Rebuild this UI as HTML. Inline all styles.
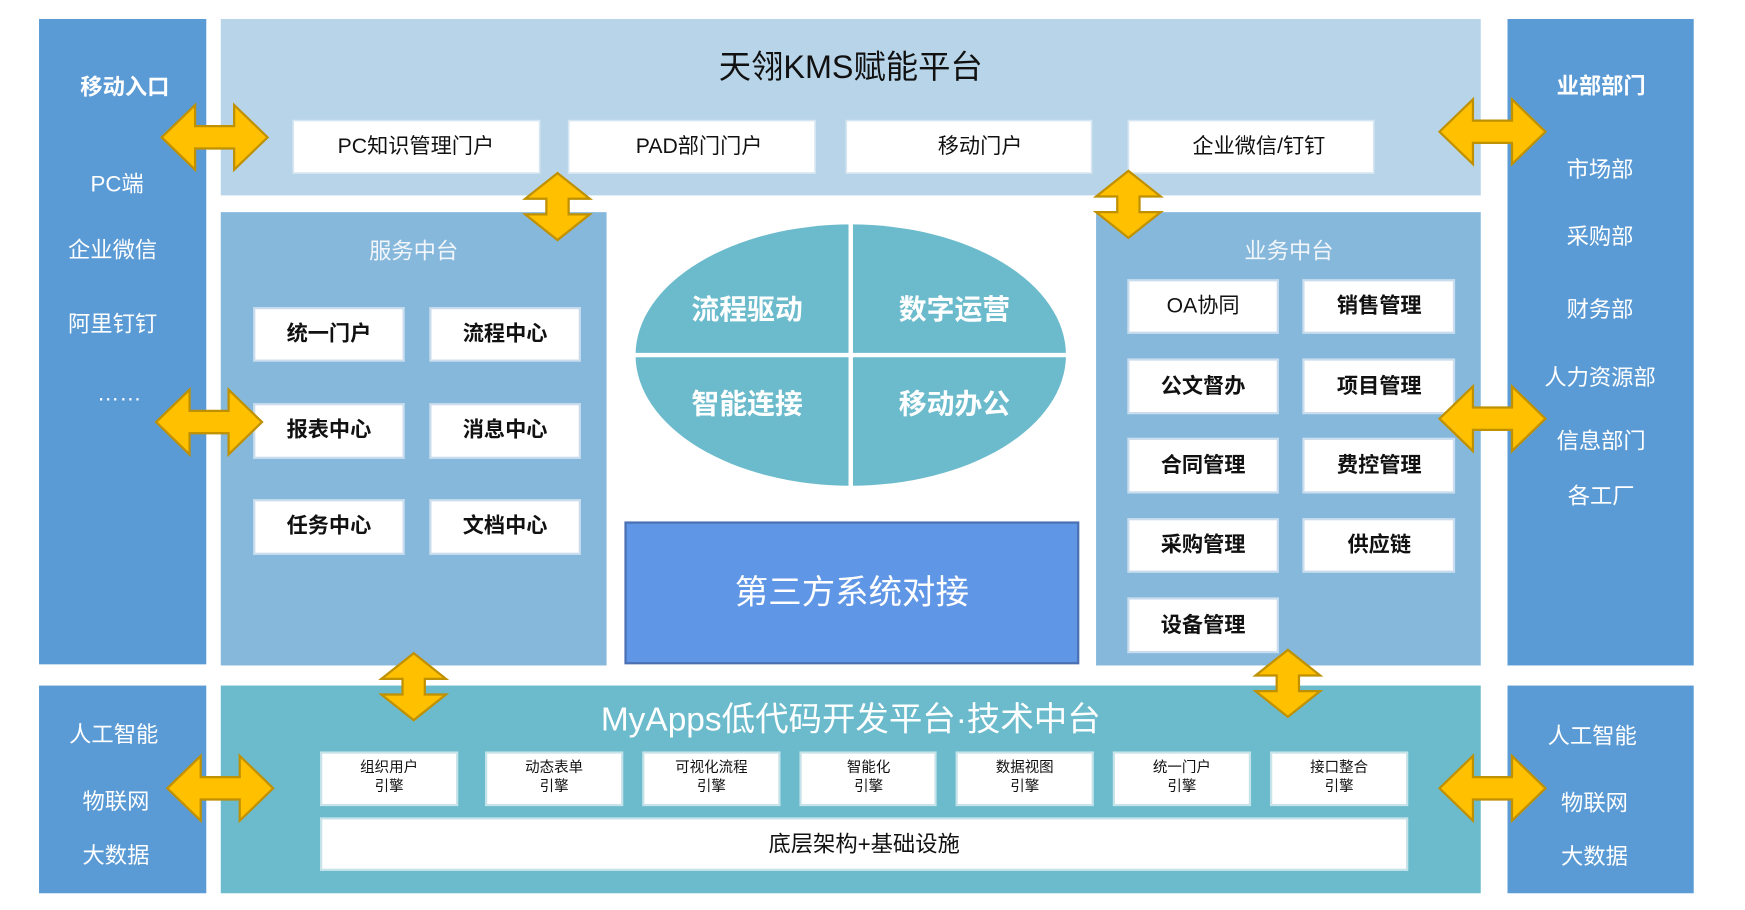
<!DOCTYPE html>
<html><head><meta charset="utf-8"><style>
html,body{margin:0;padding:0;background:#fff;}
svg{display:block;}
text{font-family:"Liberation Sans","Noto Sans CJK SC",sans-serif;dominant-baseline:central;text-anchor:middle;}
</style></head><body>
<svg width="1745" height="910" viewBox="0 0 1565 815" preserveAspectRatio="none" xmlns="http://www.w3.org/2000/svg">
<defs>
<polygon id="ha" points="0,0 30,-29 30,-10 65,-10 65,-29 95,0 65,29 65,10 30,10 30,29" fill="#ffc000" stroke="#bf9000" stroke-width="2"/>
<polygon id="va" points="0,0 -29,23 -10,23 -10,37 -29,37 0,60 29,37 10,37 10,23 29,23" fill="#ffc000" stroke="#bf9000" stroke-width="2"/>
</defs>
<rect width="1565" height="815" fill="#fff"/>
<!-- side columns -->
<rect x="35" y="17" width="150" height="578" fill="#5b9bd5"/>
<rect x="35" y="614" width="150" height="186" fill="#5b9bd5"/>
<rect x="1352" y="17" width="167" height="579" fill="#5b9bd5"/>
<rect x="1352" y="614" width="167" height="186" fill="#5b9bd5"/>
<!-- top platform -->
<rect x="198" y="17" width="1130" height="158" fill="#b8d4e8"/>
<text x="763" y="60" font-size="29" fill="#111">天翎KMS赋能平台</text>
<g fill="#fff" stroke="#d6e6f2" stroke-width="1.5">
<rect x="263" y="108" width="221" height="47"/><rect x="510" y="108" width="221" height="47"/>
<rect x="759" y="108" width="220" height="47"/><rect x="1012" y="108" width="220" height="47"/>
</g>
<g font-size="19" fill="#111">
<text x="373" y="131">PC知识管理门户</text><text x="627" y="131">PAD部门门户</text>
<text x="879" y="131">移动门户</text><text x="1129" y="131">企业微信/钉钉</text>
</g>
<!-- service -->
<rect x="198" y="190" width="346" height="406" fill="#86b8dc"/>
<text x="371" y="225" font-size="20" fill="#f2f6fb">服务中台</text>
<g fill="#fff" stroke="#c9ddee" stroke-width="2">
<rect x="228" y="276" width="134" height="47"/><rect x="386" y="276" width="134" height="47"/>
<rect x="228" y="362" width="134" height="48"/><rect x="386" y="362" width="134" height="48"/>
<rect x="228" y="448" width="134" height="48"/><rect x="386" y="448" width="134" height="48"/>
</g>
<g font-size="19" fill="#111" font-weight="bold">
<text x="295" y="299">统一门户</text><text x="453" y="299">流程中心</text>
<text x="295" y="385">报表中心</text><text x="453" y="385">消息中心</text>
<text x="295" y="471">任务中心</text><text x="453" y="471">文档中心</text>
</g>
<!-- business -->
<rect x="983" y="190" width="345" height="406" fill="#86b8dc"/>
<text x="1156" y="225" font-size="20" fill="#f2f6fb">业务中台</text>
<g fill="#fff" stroke="#c9ddee" stroke-width="2">
<rect x="1012" y="251" width="134" height="47"/><rect x="1169" y="251" width="135" height="47"/>
<rect x="1012" y="322" width="134" height="48"/><rect x="1169" y="322" width="135" height="48"/>
<rect x="1012" y="393" width="134" height="48"/><rect x="1169" y="393" width="135" height="48"/>
<rect x="1012" y="465" width="134" height="47"/><rect x="1169" y="465" width="135" height="47"/>
<rect x="1012" y="536" width="134" height="48"/>
</g>
<g font-size="19" fill="#111" font-weight="bold">
<text x="1079" y="274" font-weight="normal">OA协同</text><text x="1237" y="274">销售管理</text>
<text x="1079" y="346">公文督办</text><text x="1237" y="346">项目管理</text>
<text x="1079" y="417">合同管理</text><text x="1237" y="417">费控管理</text>
<text x="1079" y="488">采购管理</text><text x="1237" y="488">供应链</text>
<text x="1079" y="560">设备管理</text>
</g>
<!-- ellipse -->
<ellipse cx="763" cy="318" rx="193" ry="117" fill="#6bbbcc"/>
<line x1="763" y1="200" x2="763" y2="436" stroke="#fff" stroke-width="4"/>
<line x1="569" y1="318" x2="958" y2="318" stroke="#fff" stroke-width="4"/>
<g font-size="25" fill="#fff" font-weight="bold">
<text x="670" y="277">流程驱动</text><text x="856" y="277">数字运营</text>
<text x="670" y="362">智能连接</text><text x="856" y="362">移动办公</text>
</g>
<rect x="561" y="468" width="406" height="126" fill="#6096e6" stroke="#4a70b2" stroke-width="2"/>
<text x="764" y="531" font-size="30" fill="#fff">第三方系统对接</text>
<!-- bottom -->
<rect x="198" y="614" width="1130" height="186" fill="#6bbbcc"/>
<text x="763" y="645" font-size="30" fill="#fff">MyApps低代码开发平台·技术中台</text>
<g fill="#fff" stroke="#c6e3ea" stroke-width="2">
<rect x="288" y="674" width="122" height="47"/><rect x="436" y="674" width="122" height="47"/>
<rect x="577" y="674" width="122" height="47"/><rect x="718" y="674" width="121" height="47"/>
<rect x="858" y="674" width="122" height="47"/><rect x="999" y="674" width="122" height="47"/>
<rect x="1140" y="674" width="122" height="47"/>
<rect x="288" y="733" width="974" height="46"/>
</g>
<g font-size="13" fill="#111">
<text x="349" y="688">组织用户</text><text x="349" y="705">引擎</text>
<text x="497" y="688">动态表单</text><text x="497" y="705">引擎</text>
<text x="638" y="688">可视化流程</text><text x="638" y="705">引擎</text>
<text x="779" y="688">智能化</text><text x="779" y="705">引擎</text>
<text x="919" y="688">数据视图</text><text x="919" y="705">引擎</text>
<text x="1060" y="688">统一门户</text><text x="1060" y="705">引擎</text>
<text x="1201" y="688">接口整合</text><text x="1201" y="705">引擎</text>
</g>
<text x="775" y="756" font-size="20" fill="#111">底层架构+基础设施</text>
<!-- side texts -->
<g font-size="20" fill="#fff">
<text x="112" y="78" font-weight="bold">移动入口</text>
<text x="105" y="165">PC端</text><text x="101" y="224">企业微信</text>
<text x="101" y="290">阿里钉钉</text><text x="107" y="352">……</text>
<text x="1436" y="77" font-weight="bold">业部部门</text>
<text x="1435" y="152">市场部</text><text x="1435" y="212">采购部</text>
<text x="1435" y="277">财务部</text><text x="1435" y="338">人力资源部</text>
<text x="1436" y="395">信息部门</text><text x="1436" y="444">各工厂</text>
<text x="102" y="658">人工智能</text><text x="104" y="718">物联网</text><text x="104" y="766">大数据</text>
<text x="1428" y="659">人工智能</text><text x="1430" y="719">物联网</text><text x="1430" y="767">大数据</text>
</g>
<!-- arrows -->
<use href="#ha" x="145" y="123"/>
<use href="#ha" x="140" y="378"/>
<use href="#ha" x="150" y="706"/>
<use href="#ha" x="1291" y="118"/>
<use href="#ha" x="1291" y="375"/>
<use href="#ha" x="1291" y="706"/>
<use href="#va" x="500" y="155"/>
<use href="#va" x="1012" y="153"/>
<use href="#va" x="371" y="585"/>
<use href="#va" x="1155" y="582"/>
</svg>
</body></html>
